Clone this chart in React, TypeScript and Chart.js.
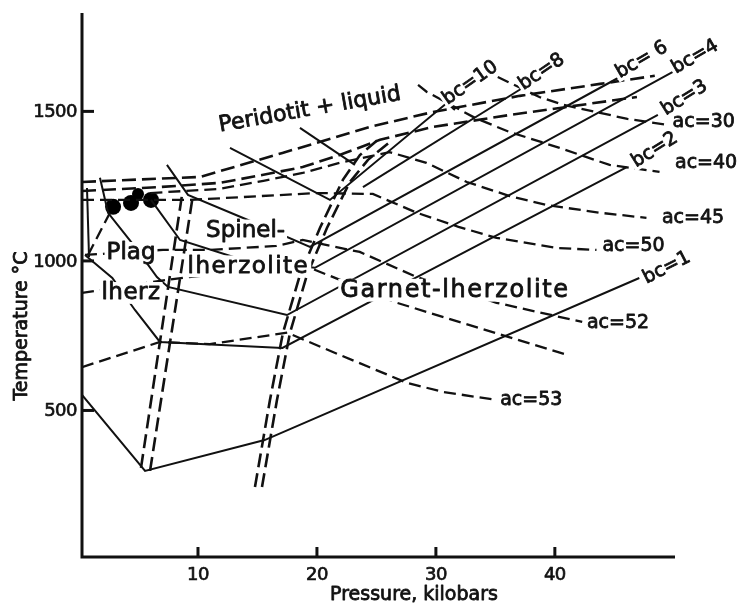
import React, { useEffect, useRef } from "react";
import { Chart, registerables } from "chart.js";

Chart.register(...registerables);

// ---- axes (pressure kbar / temperature °C) ----
const xRange = [0.25, 50.1];
const yRange = [10, 1829];
const xTickValues = [10, 20, 30, 40];
const yTickValues = [500, 1000, 1500];
const xTitle = "Pressure, kilobars";
const yTitle = "Temperature °C";

// ---- bc isopleths (solid) [P, T] ----
const bc1 = [[0.25, 552], [5.55, 298], [15.6, 401], [47.1, 943]];
const bc2 = [[0.5, 1020], [2.8, 943], [4.7, 836], [6.8, 729], [17.1, 709], [28.4, 946], [46.05, 1314]];
const bc3 = [[1.76, 1278], [2.44, 1161], [4.71, 1047], [6.55, 946], [7.48, 913], [17.48, 819], [48.66, 1488]];
const bc4 = [[6.05, 1204], [8.49, 1070], [13.78, 1003], [19.83, 977], [49.92, 1632]];
const bc6 = [[7.39, 1321], [9.16, 1221], [14.2, 1137], [19.41, 1047], [45.46, 1615]];
const bc8 = [[23.87, 1247], [37.31, 1579]];
const bc10 = [[12.69, 1378], [21.09, 1204], [30.92, 1528], [31.6, 1505]];
const liquidLine = [[18.57, 1445], [23.19, 1321]];
const plagVertical = [[0.67, 1244], [0.84, 1013]];

// ---- ac isopleths (dashed) [P, T] ----
const ac53 = [[0.25, 645], [6.81, 729], [11.0, 722], [17.5, 760], [21.9, 686], [27.6, 592], [30.6, 562], [35.1, 535]];
const acLower = [[0.25, 893], [7.23, 936], [14.37, 970], [19.41, 977], [26.72, 860], [41.0, 686]];
const ac52 = [[0.5, 1020], [7.06, 1037], [11.0, 1037], [16.6, 1050], [18.8, 1070], [23.6, 1030], [28.4, 946], [35.1, 860], [42.3, 796]];
const ac50 = [[0.25, 1204], [9.3, 1204], [20.0, 1227], [24.7, 1224], [28.4, 1161], [31.9, 1114], [35.1, 1077], [40.2, 1043], [43.5, 1037]];
const ac45 = [[6.0, 1227], [11.85, 1241], [15.5, 1268], [18.8, 1294], [21.9, 1328], [26.1, 1364], [29.2, 1328], [32.6, 1264], [36.2, 1217], [39.3, 1187], [43.8, 1161], [47.7, 1144]];
const ac40 = [[28.5, 1589], [29.24, 1565], [33.3, 1478], [36.2, 1431], [40.4, 1378], [44.6, 1321], [48.8, 1298]];
const ac30 = [[35.2, 1615], [38.7, 1548], [40.7, 1522], [43.8, 1495], [46.1, 1475], [49.4, 1455]];
const plagDash = [[0.76, 1020], [2.6, 1161]];

// ---- phase boundaries (double dashed) [P, T] ----
const solidusLower = [[0.25, 1234], [6.8, 1247], [11.85, 1261], [15.5, 1288], [18.8, 1314], [21.9, 1354], [25.3, 1405], [29.75, 1448], [36.2, 1488], [46.9, 1548]];
const solidusUpper = [[0.25, 1264], [10.2, 1281], [17.1, 1361], [24.45, 1448], [29.75, 1498], [37.06, 1552], [43.8, 1592], [48.4, 1619]];
const spinelGarnetA = [[14.79, 244], [16.05, 535], [17.14, 759], [18.57, 953], [20.25, 1110], [22.18, 1271], [23.61, 1354], [25.29, 1411]];
const spinelGarnetB = [[15.38, 244], [16.64, 535], [17.73, 759], [19.16, 953], [20.84, 1110], [22.77, 1264], [24.29, 1338], [26.13, 1398]];
const plagSpinelA = [[5.21, 308], [8.66, 1221]];
const plagSpinelB = [[5.97, 298], [9.58, 1221]];

// ---- experimental points ----
const dotPoints = [[2.86, 1181], [4.37, 1194], [4.96, 1224], [6.05, 1204]];
const dotSizes = [8, 8, 6, 8];

// ---- annotations (anchored in data units) ----
const regionLabels = [
  { text: "Peridotit + liquid", p: 19.4, t: 1505, rot: -10 },
  { text: "Spinel-", p: 14.0, t: 1100, rot: 0 },
  { text: "lherzolite", p: 14.24, t: 980, rot: 0 },
  { text: "Plag", p: 4.37, t: 1025, rot: 0 },
  { text: "lherz", p: 4.37, t: 891, rot: 0 },
  { text: "Garnet-lherzolite", p: 31.6, t: 900, rot: 0 },
];
const bcLabels = [
  { text: "bc=10", p: 32.9, t: 1595, rot: -35 },
  { text: "bc=8", p: 38.9, t: 1632, rot: -34 },
  { text: "bc= 6", p: 47.3, t: 1672, rot: -30 },
  { text: "bc=4", p: 51.8, t: 1682, rot: -30 },
  { text: "bc=3", p: 50.9, t: 1545, rot: -32 },
  { text: "bc=2", p: 48.4, t: 1371, rot: -32 },
  { text: "bc=1", p: 49.4, t: 977, rot: -27 },
];
const acLabels = [
  { text: "ac=30", p: 49.9, t: 1465 },
  { text: "ac=40", p: 50.1, t: 1328 },
  { text: "ac=45", p: 49.0, t: 1144 },
  { text: "ac=50", p: 44.0, t: 1050 },
  { text: "ac=52", p: 42.7, t: 793 },
  { text: "ac=53", p: 35.4, t: 535 },
];

const FONT = '"DejaVu Sans", "Liberation Sans", sans-serif';
const INK = "#111111";
const regionStyle: Record<string, { size: number; spacing: number }> = {
  "Peridotit + liquid": { size: 22, spacing: 0 },
  "Spinel-": { size: 23, spacing: 0 },
  "lherzolite": { size: 23, spacing: 1.5 },
  "Plag": { size: 23, spacing: 0 },
  "lherz": { size: 23, spacing: 0.5 },
  "Garnet-lherzolite": { size: 24, spacing: 1.6 },
};

const solidLines = [bc1, bc2, bc3, bc4, bc6, bc8, bc10, liquidLine, plagVertical];
const dashedLines = [ac53, acLower, ac52, ac50, ac45, ac40, ac30, plagDash];
const boundaryLines = [solidusLower, solidusUpper, spinelGarnetA, spinelGarnetB, plagSpinelA, plagSpinelB];

const toXY = (arr: number[][]) => arr.map(([x, y]) => ({ x, y }));

function boldText(ctx: CanvasRenderingContext2D, text: string, x: number, y: number, weight: number) {
  ctx.fillStyle = INK;
  ctx.strokeStyle = INK;
  ctx.lineWidth = weight;
  ctx.lineJoin = "round";
  ctx.strokeText(text, x, y);
  ctx.fillText(text, x, y);
}

function drawLabel(ctx: CanvasRenderingContext2D, text: string, x: number, y: number, rot: number, size: number, spacing: number, align: CanvasTextAlign) {
  ctx.save();
  ctx.translate(x, y);
  ctx.rotate((rot * Math.PI) / 180);
  ctx.font = `${size}px ${FONT}`;
  (ctx as any).letterSpacing = `${spacing}px`;
  ctx.textAlign = align;
  ctx.textBaseline = "middle";
  const w = ctx.measureText(text).width;
  const x0 = align === "center" ? -w / 2 : align === "left" ? 0 : -w;
  ctx.fillStyle = "#ffffff";
  ctx.fillRect(x0 - 2, -size * 0.5, w + 4, size * 0.95);
  boldText(ctx, text, 0, 0, 0.8);
  ctx.restore();
}

const overlay = {
  id: "overlay",
  afterDatasetsDraw(chart: any) {
    const { ctx, chartArea: a, scales } = chart;
    const xs = scales.x;
    const ys = scales.y;
    ctx.save();

    for (const l of regionLabels) {
      const st = regionStyle[l.text];
      drawLabel(ctx, l.text, xs.getPixelForValue(l.p), ys.getPixelForValue(l.t), l.rot, st.size, st.spacing, "center");
    }
    for (const l of bcLabels) {
      drawLabel(ctx, l.text, xs.getPixelForValue(l.p), ys.getPixelForValue(l.t), l.rot, 19, 0, "center");
    }
    for (const l of acLabels) {
      drawLabel(ctx, l.text, xs.getPixelForValue(l.p), ys.getPixelForValue(l.t), 0, 19, 0, "left");
    }

    // axes
    ctx.strokeStyle = INK;
    ctx.lineWidth = 3;
    ctx.lineCap = "butt";
    ctx.beginPath();
    ctx.moveTo(a.left, a.top);
    ctx.lineTo(a.left, a.bottom);
    ctx.lineTo(a.right, a.bottom);
    ctx.stroke();

    // inward ticks
    for (const v of xTickValues) {
      const px = xs.getPixelForValue(v);
      ctx.beginPath();
      ctx.moveTo(px, a.bottom);
      ctx.lineTo(px, a.bottom - 10);
      ctx.stroke();
    }
    for (const v of yTickValues) {
      const py = ys.getPixelForValue(v);
      ctx.beginPath();
      ctx.moveTo(a.left, py);
      ctx.lineTo(a.left + 12, py);
      ctx.stroke();
    }

    // tick labels
    ctx.font = `18px ${FONT}`;
    (ctx as any).letterSpacing = "-0.5px";
    ctx.textBaseline = "middle";
    ctx.textAlign = "center";
    for (const v of xTickValues) {
      boldText(ctx, String(v), xs.getPixelForValue(v), a.bottom + 18, 0.7);
    }
    ctx.textAlign = "right";
    for (const v of yTickValues) {
      boldText(ctx, String(v), a.left - 5, ys.getPixelForValue(v) + 1, 0.7);
    }

    // axis titles
    ctx.font = `19px ${FONT}`;
    (ctx as any).letterSpacing = "0px";
    ctx.textAlign = "center";
    boldText(ctx, xTitle, 414, a.bottom + 38, 0.8);
    ctx.save();
    ctx.translate(22, 326);
    ctx.rotate(-Math.PI / 2);
    boldText(ctx, yTitle, 0, 0, 0.8);
    ctx.restore();

    ctx.restore();
  },
};

export default function App() {
  const ref = useRef<HTMLCanvasElement | null>(null);
  useEffect(() => {
    if (!ref.current) return;
    const common = { showLine: true, pointRadius: 0, borderColor: INK, tension: 0 };
    const datasets: any[] = [
      ...solidLines.map((d) => ({ ...common, data: toXY(d), borderWidth: 2 })),
      ...dashedLines.map((d) => ({ ...common, data: toXY(d), borderWidth: 2.3, borderDash: [12, 6] })),
      ...boundaryLines.map((d) => ({ ...common, data: toXY(d), borderWidth: 2.6, borderDash: [14, 6] })),
      {
        data: toXY(dotPoints),
        showLine: false,
        pointRadius: dotSizes,
        pointBackgroundColor: "#000",
        pointBorderColor: "#000",
        pointBorderWidth: 0,
      },
    ];
    const chart = new Chart(ref.current, {
      type: "scatter",
      data: { datasets },
      options: {
        animation: false,
        responsive: false,
        events: [],
        layout: { padding: { left: 82, top: 13, right: 62, bottom: 47 } },
        plugins: { legend: { display: false }, tooltip: { enabled: false } },
        scales: {
          x: { type: "linear", min: xRange[0], max: xRange[1], display: false },
          y: { type: "linear", min: yRange[0], max: yRange[1], display: false },
        },
      },
      plugins: [overlay],
    });
    return () => chart.destroy();
  }, []);
  return (
    <div style={{ position: "absolute", left: 0, top: 0, width: 737, height: 604, background: "#fff" }}>
      <canvas ref={ref} width={737} height={604} />
    </div>
  );
}
